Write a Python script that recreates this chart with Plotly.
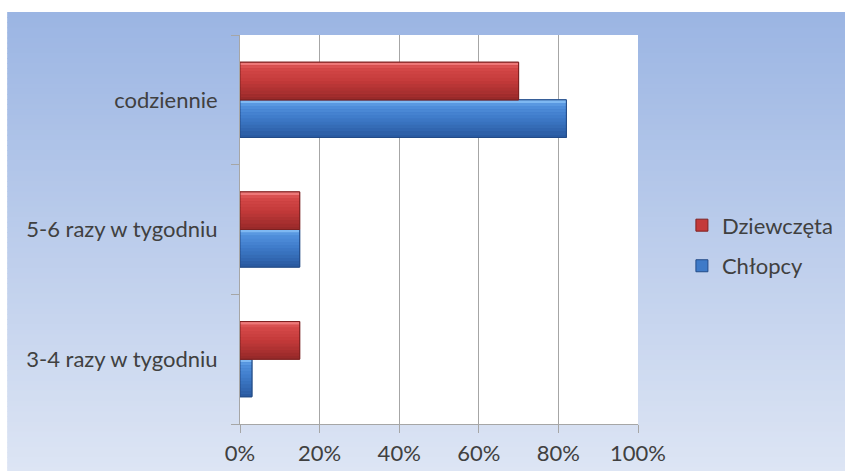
import plotly.graph_objects as go

# Survey answers (bottom-to-top order on the category axis)
categories = ["3-4 razy w tygodniu", "5-6 razy w tygodniu", "codziennie"]
girls = [15, 15, 70]    # Dziewczęta, %
boys = [3, 15, 82]      # Chłopcy, %
x_ticks = [0, 20, 40, 60, 80, 100]
x_tick_labels = ["0%", "20%", "40%", "60%", "80%", "100%"]

FONT = "Lato"
TEXT = "#404040"
BAR_W = 0.29      # bar thickness in category units
N_STRIPES = 12    # vertical shading steps per bar


def lerp(c1, c2, t):
    return tuple(round(a + (b - a) * t) for a, b in zip(c1, c2))


def shade(stops, t):
    for (t0, c0), (t1, c1) in zip(stops, stops[1:]):
        if t0 <= t <= t1:
            return "rgb(%d,%d,%d)" % lerp(c0, c1, (t - t0) / (t1 - t0))
    return "rgb(%d,%d,%d)" % stops[-1][1]


red_stops = [(0, (248, 140, 140)), (0.14, (214, 74, 74)), (0.5, (196, 58, 58)), (1, (148, 40, 40))]
blue_stops = [(0, (145, 200, 250)), (0.14, (82, 146, 222)), (0.5, (62, 122, 200)), (1, (40, 88, 158))]

series = [
    # name, values, base offset, gradient, mid colour, edge colour, legend rank
    ("Chłopcy", boys, -BAR_W, blue_stops, "rgb(62,122,200)", "rgb(35,75,135)", 2),
    ("Dziewczęta", girls, 0.0, red_stops, "rgb(196,58,58)", "rgb(125,32,32)", 1),
]

fig = go.Figure()

for name, vals, off, stops, mid, edge, rank in series:
    # base bar (also provides the legend swatch)
    fig.add_trace(go.Bar(
        y=categories, x=vals, orientation="h", name=name,
        width=BAR_W, offset=off, legendgroup=name, legendrank=rank,
        marker=dict(color=mid, line=dict(color=edge, width=1)),
        hoverinfo="skip",
    ))
    # vertical gradient, top to bottom
    step = BAR_W / N_STRIPES
    for k in range(N_STRIPES):
        t = (k + 0.5) / N_STRIPES
        fig.add_trace(go.Bar(
            y=categories, x=vals, orientation="h",
            width=step * 1.02, offset=off + BAR_W - (k + 1) * step,
            marker=dict(color=shade(stops, t), line=dict(width=0)),
            showlegend=False, legendgroup=name, hoverinfo="skip",
        ))
    # crisp outline
    fig.add_trace(go.Bar(
        y=categories, x=vals, orientation="h",
        width=BAR_W, offset=off,
        marker=dict(color="rgba(0,0,0,0)", line=dict(color=edge, width=1)),
        showlegend=False, legendgroup=name, hoverinfo="skip",
    ))

# background: vertical blue gradient behind the chart area
shapes = []
top_c, bot_c = (155, 181, 227), (221, 229, 244)
n_bg = 90
y_top, y_bot = 1.059, -0.125
for i in range(n_bg):
    y0 = y_top + (y_bot - y_top) * i / n_bg
    y1 = y_top + (y_bot - y_top) * (i + 1) / n_bg
    c = lerp(top_c, bot_c, (i + 0.5) / n_bg)
    shapes.append(dict(
        type="rect", xref="paper", yref="paper", layer="below",
        x0=-0.585, x1=1.53, y0=y1 - 0.002, y1=y0,
        fillcolor="rgb(%d,%d,%d)" % c, line=dict(width=0),
    ))
# white plotting area
shapes.append(dict(
    type="rect", xref="paper", yref="paper", layer="below",
    x0=0, x1=1, y0=0, y1=1, fillcolor="white", line=dict(width=0),
))

fig.update_layout(
    width=845, height=471,
    margin=dict(l=240, r=207, t=35, b=47, autoexpand=False),
    paper_bgcolor="white", plot_bgcolor="white",
    barmode="overlay",
    shapes=shapes,
    font=dict(family=FONT, color=TEXT, size=22),
    showlegend=True,
    legend=dict(
        xref="container", yref="container",
        x=0.807, y=0.478, xanchor="left", yanchor="middle",
        traceorder="grouped", tracegroupgap=9,
        font=dict(family=FONT, size=22, color=TEXT),
        bgcolor="rgba(0,0,0,0)", itemwidth=30,
    ),
    xaxis=dict(
        range=[0, 100], tickvals=x_ticks, ticktext=x_tick_labels,
        showgrid=True, gridcolor="#A6A6A6", gridwidth=1,
        showline=True, linecolor="#A6A6A6", linewidth=1,
        ticks="outside", ticklen=8, tickcolor="#A6A6A6",
        zeroline=False, fixedrange=True, automargin=False,
        tickfont=dict(family=FONT, size=22, color=TEXT),
        ticklabelstandoff=2,
    ),
    yaxis=dict(
        type="category", categoryorder="array", categoryarray=categories,
        range=[-0.5, 2.5],
        showgrid=False, showline=True, linecolor="#A6A6A6", linewidth=1,
        ticks="outside", ticklen=8, tickcolor="#A6A6A6", tickson="boundaries",
        fixedrange=True, automargin=False,
        tickfont=dict(family=FONT, size=22, color=TEXT),
        ticklabelstandoff=17,
    ),
)

fig.write_html("out.html")
